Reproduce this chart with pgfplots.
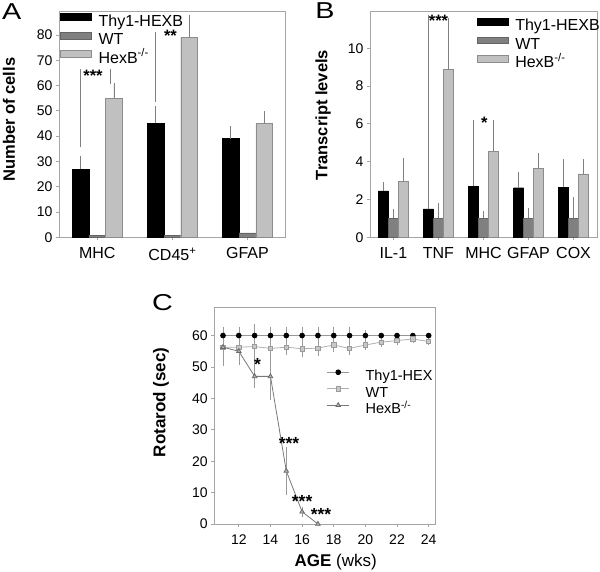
\documentclass[border=0pt]{standalone}
\usepackage{pgfplots}
\pgfplotsset{compat=1.18}
\usepackage{fontspec}
\setmainfont{Liberation Sans}
\definecolor{wtbar}{RGB}{128,128,128}
\definecolor{wtedge}{RGB}{100,100,100}
\definecolor{hexbar}{RGB}{192,192,192}
\definecolor{hexedge}{RGB}{140,140,140}
\definecolor{frame}{RGB}{165,165,165}
\definecolor{errc}{RGB}{128,128,128}
\definecolor{thyline}{RGB}{150,150,150}
\definecolor{wtline}{RGB}{175,175,175}
\definecolor{wtfill}{RGB}{200,200,200}
\definecolor{wtmk}{RGB}{155,155,155}
\definecolor{hexline}{RGB}{120,120,120}
\definecolor{hexfill}{RGB}{180,180,180}
\definecolor{hexmk}{RGB}{105,105,105}
\newcommand{\lf}{\fontsize{16}{18}\selectfont}
\newcommand{\lfc}{\fontsize{14.5}{16}\selectfont}
\pgfplotsset{
  panel/.style={
    scale only axis, clip=false,
    axis line style={frame, line width=0.8pt},
    tick align=outside, tick pos=left,
    major tick length=3pt,
    every tick/.style={frame, line width=0.8pt},
    /pgf/number format/assume math mode=true,
    legend cell align=left,
  },
  barleg/.style={legend image code/.code={\draw[##1,/tikz/.cd] (0pt,2.2pt) rectangle (31pt,8.8pt);}},
  errA/.style={error bars/.cd, y dir=plus, y explicit,
    error bar style={errc, line width=0.7pt},
    error mark options={errc, mark size=2.5pt, line width=0.7pt}},
}
\begin{document}
\begin{tikzpicture}
\useasboundingbox (0pt,0pt) rectangle (600pt,572pt);
% ---------------- Panel A
\begin{axis}[panel, at={(59pt,334.7pt)}, anchor=south west,
  width=226pt, height=225.6pt,
  xmin=-0.51, xmax=2.5, ymin=0, ymax=89.2,
  xtick={0,1,2}, xticklabels={MHC, CD45\textsuperscript{+}, GFAP},
  ytick={0,10,...,80},
  yticklabel style={font=\fontsize{14}{16}\selectfont},
  xticklabel style={font=\fontsize{16}{18}\selectfont, yshift=-4pt},
  ylabel={\textbf{Number of cells}},
  ylabel style={font=\fontsize{16.5}{18}\selectfont, at={(axis description cs:-0.221,0.522)}, anchor=center},
  legend style={at={(axis description cs:0,1)}, anchor=north west, xshift=1pt, yshift=-1.3pt,
    draw=none, fill=none, inner sep=0pt,
    nodes={inner ysep=2pt, inner xsep=0pt, text height=11pt, text depth=3.5pt}, column sep=7pt},
]
\addplot[ybar, bar width=0.222, bar shift=0pt, fill=black, draw=black, barleg, errA]
  coordinates {(-0.222,27) +- (0,4) (0.778,45) +- (0,6) (1.778,39) +- (0,4)};
\addlegendentry{\lf Thy1-HEXB}
\addplot[ybar, bar width=0.222, bar shift=0pt, fill=wtbar, draw=wtedge, barleg]
  coordinates {(0,0.8) (1,0.8) (2,1.7)};
\addlegendentry{\lf WT}
\addplot[ybar, bar width=0.222, bar shift=0pt, fill=hexbar, draw=hexedge, barleg, errA]
  coordinates {(0.222,55) +- (0,5) (1.222,79) +- (0,8) (2.222,45) +- (0,4)};
\addlegendentry{\lf HexB\textsuperscript{-/-}}
\draw[errc, line width=0.8pt] (axis cs:-0.23,35.8) -- (axis cs:-0.23,66.4);
\draw[errc, line width=0.8pt] (axis cs:0.17,60.5) -- (axis cs:0.17,66.5);
\draw[errc, line width=0.8pt] (axis cs:0.77,53.5) -- (axis cs:0.77,81.2);
\node[font=\fontsize{16.5}{18}\selectfont\bfseries] at (axis cs:-0.057,64) {***};
\node[font=\fontsize{16.5}{18}\selectfont\bfseries, inner sep=0pt] at (axis cs:0.975,79.8) {**};
\end{axis}
% ---------------- Panel B
\begin{axis}[panel, at={(370pt,334.7pt)}, anchor=south west,
  width=227pt, height=225.6pt,
  xmin=-0.52, xmax=4.52, ymin=0, ymax=11.93,
  xtick={0,1,2,3,4}, xticklabels={IL-1, TNF, MHC, GFAP, COX},
  ytick={0,2,...,10},
  yticklabel style={font=\fontsize{14}{16}\selectfont},
  xticklabel style={font=\fontsize{16}{18}\selectfont, yshift=-4pt},
  ylabel={\textbf{Transcript levels}},
  ylabel style={font=\fontsize{16.5}{18}\selectfont, at={(axis description cs:-0.207,0.542)}, anchor=center},
  legend style={at={(axis description cs:0.47,1)}, anchor=north west, yshift=-6pt,
    draw=none, fill=none, inner sep=0pt,
    nodes={inner ysep=2pt, inner xsep=0pt, text height=11pt, text depth=3.5pt}, column sep=7pt},
]
\addplot[ybar, bar width=0.222, bar shift=0pt, fill=black, draw=black, barleg, errA]
  coordinates {(-0.222,2.46) +- (0,0.32) (0.778,1.5) +- (0,0.5) (1.778,2.71) +- (0,0.6)
               (2.778,2.62) +- (0,0.71) (3.778,2.64) +- (0,1.36)};
\addlegendentry{\lf Thy1-HEXB}
\addplot[ybar, bar width=0.222, bar shift=0pt, fill=wtbar, draw=wtedge, barleg, errA]
  coordinates {(0,1) +- (0,0.37) (1,1) +- (0,0.69) (2,1) +- (0,0.25) (3,1) +- (0,0.44) (4,1) +- (0,0.99)};
\addlegendentry{\lf WT}
\addplot[ybar, bar width=0.222, bar shift=0pt, fill=hexbar, draw=hexedge, barleg, errA]
  coordinates {(0.222,2.96) +- (0,1.11) (1.222,8.89) +- (0,1.5) (2.222,4.56) +- (0,0.76)
               (3.222,3.64) +- (0,0.69) (4.222,3.35) +- (0,0.65)};
\addlegendentry{\lf HexB\textsuperscript{-/-}}
\draw[errc, line width=0.8pt] (axis cs:0.785,2.0) -- (axis cs:0.785,11.75);
\draw[errc, line width=0.8pt] (axis cs:1.222,10.5) -- (axis cs:1.222,11.6);
\draw[errc, line width=0.8pt] (axis cs:1.778,3.4) -- (axis cs:1.778,6.18);
\draw[errc, line width=0.8pt] (axis cs:2.21,5.33) -- (axis cs:2.21,6.18);
\node[font=\fontsize{16.5}{18}\selectfont\bfseries] at (axis cs:1.0,11.44) {***};
\node[font=\fontsize{16.5}{18}\selectfont\bfseries] at (axis cs:2.02,6.04) {*};
\end{axis}
% ---------------- Panel C
\begin{axis}[panel, at={(214.3pt,48pt)}, anchor=south west,
  width=220.7pt, height=216.7pt,
  xmin=10.45, xmax=24.4, ymin=0, ymax=69,
  xtick={12,14,...,24}, ytick={0,10,...,60},
  ticklabel style={font=\fontsize{14}{16}\selectfont},
  xticklabel style={yshift=-4.5pt},
  xlabel={\textbf{AGE} (wks)},
  xlabel style={font=\fontsize{17}{19}\selectfont, at={(axis description cs:0.55,-0.174)}, anchor=center},
  ylabel={\textbf{Rotarod (sec)}},
  ylabel style={font=\fontsize{17}{19}\selectfont, at={(axis description cs:-0.2415,0.561)}, anchor=center},
  legend image code/.code={\draw[mark repeat=2, mark phase=2, #1] plot coordinates {(0pt,5pt) (11pt,5pt) (22pt,5pt)};},
  legend style={at={(axis description cs:0.509,1)}, anchor=north west, yshift=-61.5pt,
    draw=none, fill=none, inner sep=0pt,
    nodes={inner ysep=1.5pt, inner xsep=0pt, text height=10.5pt, text depth=3pt}, column sep=16pt},
  error bars/error bar style={errc!80, line width=0.6pt},
  error bars/error mark options={errc!80, mark size=2pt, line width=0.6pt},
]
\addplot[thyline, line width=0.8pt, mark=*, mark size=2.4pt, mark options={fill=black, draw=black},
  error bars/.cd, y dir=both, y explicit]
  coordinates {(11,60) +- (0,2) (12,60) +- (0,2) (13,60) +- (0,2) (14,60) +- (0,2) (15,60) +- (0,2)
    (16,60) +- (0,2) (17,60) +- (0,2) (18,60) +- (0,2) (19,60) +- (0,2) (20,60) +- (0,1)
    (21,60) +- (0,0) (22,60) +- (0,0) (23,60) +- (0,0) (24,60) +- (0,0)};
\addlegendentry{\lfc Thy1-HEX}
\addplot[wtline, line width=0.8pt, mark=square*, mark size=2.2pt, mark options={fill=wtfill, draw=wtmk},
  error bars/.cd, y dir=both, y explicit]
  coordinates {(11,56.3) +- (0,2) (12,56.3) +- (0,2) (13,56.5) +- (0,6.5) (14,55.9) +- (0,2.5)
    (15,56.3) +- (0,2) (16,55.8) +- (0,2) (17,56) +- (0,2) (18,57) +- (0,1.5) (19,55.9) +- (0,1.5)
    (20,57) +- (0,1) (21,57.9) +- (0,0.8) (22,58.4) +- (0,0.8) (23,58.9) +- (0,0.5) (24,58.1) +- (0,0.5)};
\addlegendentry{\lfc WT}
\addplot[hexline, line width=0.8pt, mark=triangle*, mark size=2.6pt, mark options={fill=hexfill, draw=hexmk},
  error bars/.cd, y dir=both, y explicit]
  coordinates {(11,56.3) +- (0,5.3) (12,55) +- (0,3.7) (13,47) +- (0,3.2) (14,47) +- (0,6.9)
    (15,16.9) +- (0,7.1) (16,3.9) +- (0,1) (17,0) +- (0,0)};
\addlegendentry{\lfc HexB\textsuperscript{-/-}}
\node[font=\fontsize{17.5}{19}\selectfont\bfseries] at (axis cs:13.18,50.9) {*};
\node[font=\fontsize{17.5}{19}\selectfont\bfseries] at (axis cs:15.17,25.5) {***};
\node[font=\fontsize{17.5}{19}\selectfont\bfseries] at (axis cs:16.0,7.1) {***};
\node[font=\fontsize{17.5}{19}\selectfont\bfseries] at (axis cs:17.2,3.06) {***};
\end{axis}
% panel letters
\node[font=\fontsize{23}{25}\selectfont] at (11.7pt,560.7pt) {\scalebox{1.25}[1]{A}};
\node[font=\fontsize{23}{25}\selectfont] at (325pt,561.2pt) {\scalebox{1.25}[1]{B}};
\node[font=\fontsize{23}{25}\selectfont] at (162.5pt,269.5pt) {\scalebox{1.25}[1]{C}};
\end{tikzpicture}
\end{document}
